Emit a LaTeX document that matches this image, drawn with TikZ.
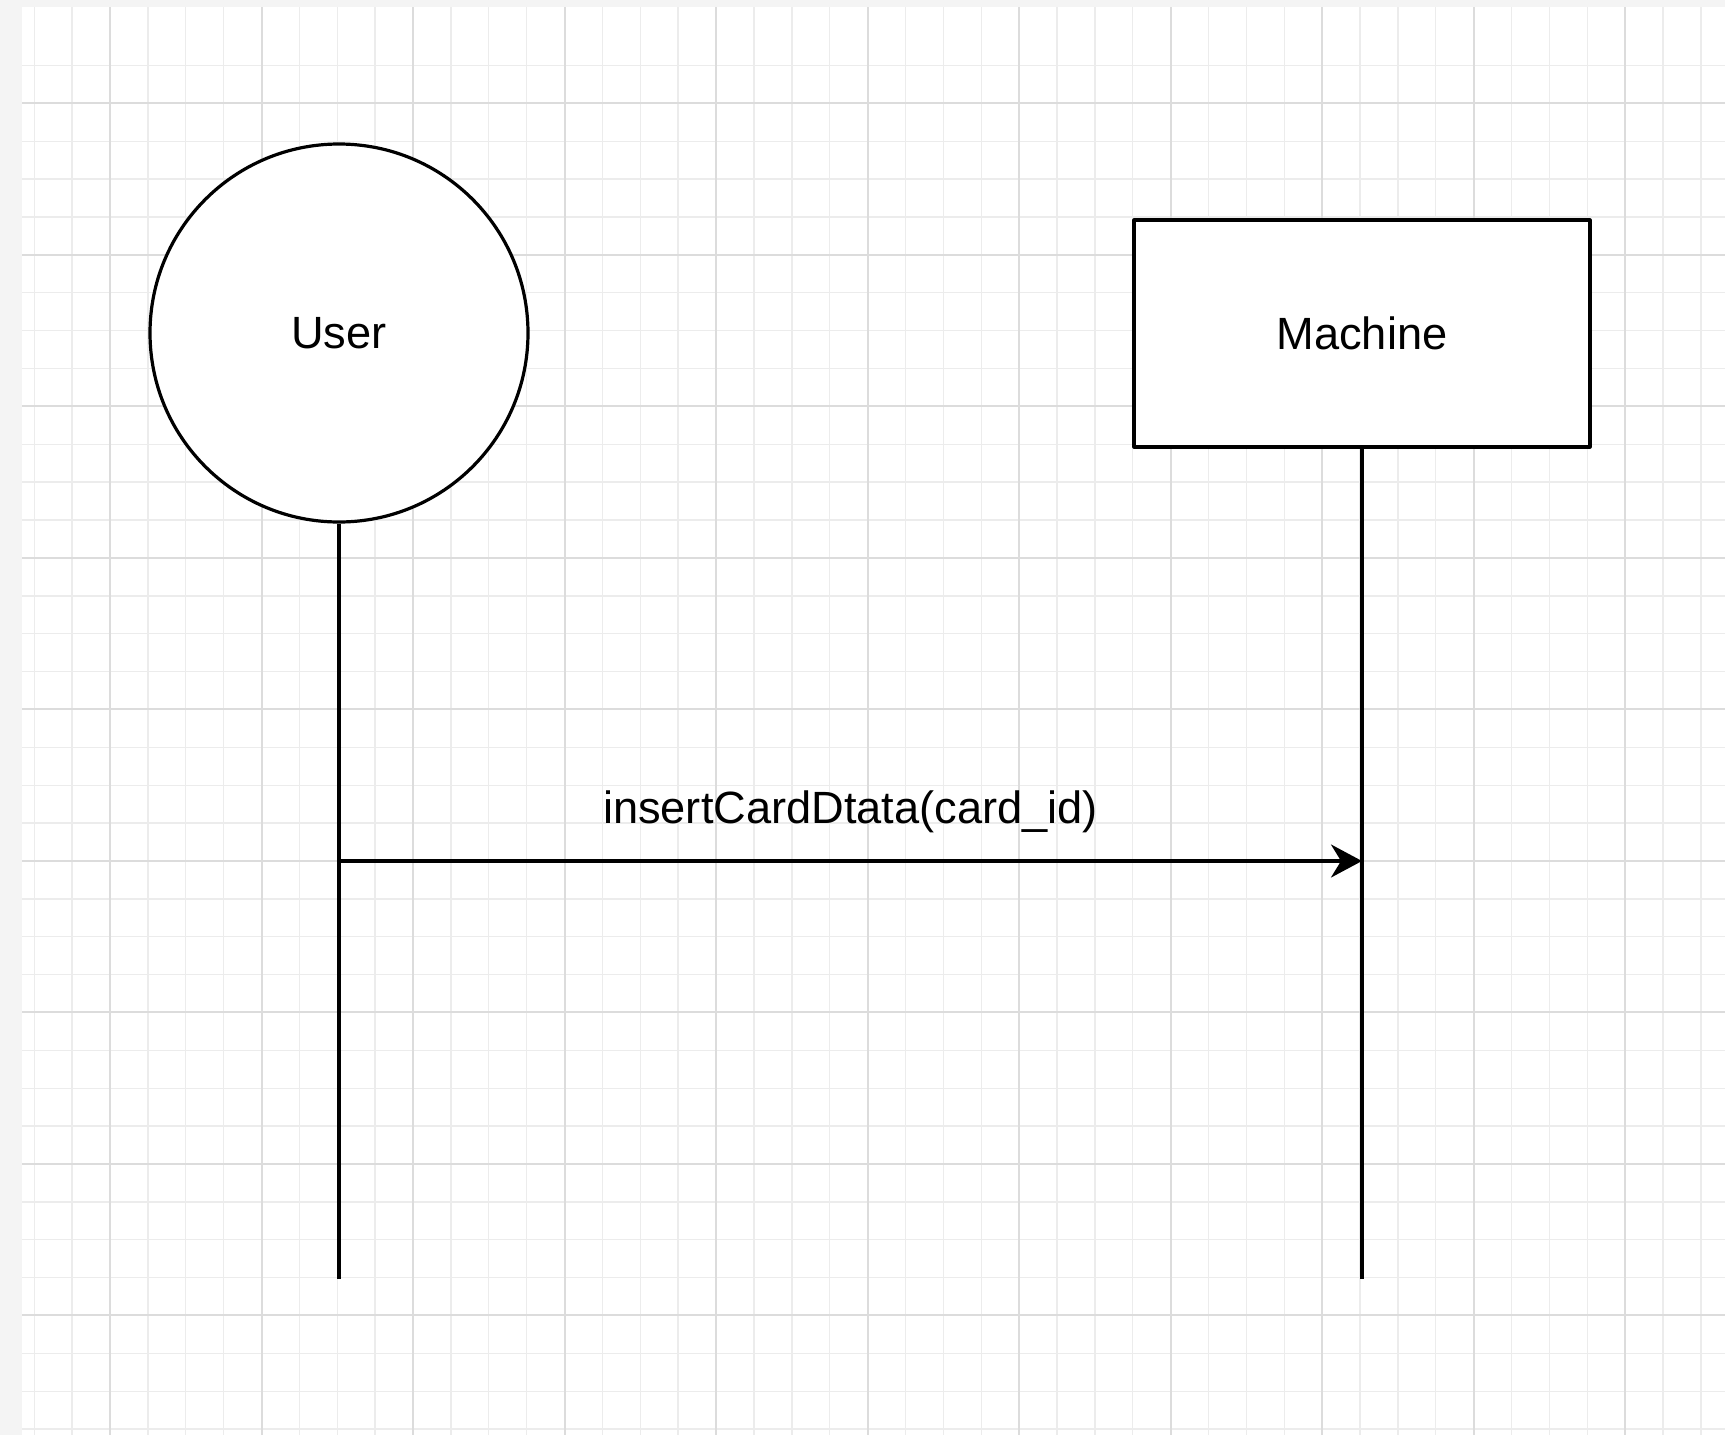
\documentclass[tikz,border=0pt]{standalone}
\usepackage{fontspec}
\setmainfont{Liberation Sans}
\usetikzlibrary{arrows.meta,positioning}
\definecolor{pagegray}{HTML}{F4F4F4}
\definecolor{minorgray}{HTML}{ECECEC}
\definecolor{majorgray}{HTML}{DCDCDC}
\tikzset{
	actor/.style={circle,draw=black,fill=white,line width=1.6pt,minimum size=189pt,inner sep=0pt},
	system/.style={rectangle,draw=black,fill=white,line width=1.6pt,minimum width=228pt,minimum height=113.5pt,inner sep=0pt},
	lifeline/.style={line width=1.6pt},
	msg/.style={line width=1.6pt,-{Stealth[length=15.5pt,width=16.5pt,inset=5pt]}},
	bigfont/.style={font=\fontsize{22.6pt}{27pt}\selectfont}
}
\begin{document}
\begin{tikzpicture}[x=0.5pt,y=-0.5pt,line join=round,bigfont]
	\useasboundingbox (0,0) rectangle (1725,1435);
	\fill[pagegray] (0,0) rectangle (1725,1435);
	\fill[white] (22,7) rectangle (1725,1435);
	\foreach \i in {0,...,44}{\draw[minorgray,line width=0.7pt] ({34.2+37.88*\i},7)--({34.2+37.88*\i},1435);}
	\foreach \i in {0,...,36}{\draw[minorgray,line width=0.7pt] (22,{65.5+37.88*\i})--(1725,{65.5+37.88*\i});}
	\foreach \i in {0,...,10}{\draw[majorgray,line width=1pt] ({110+151.5*\i},7)--({110+151.5*\i},1435);}
	\foreach \i in {0,...,8}{\draw[majorgray,line width=1pt] (22,{103.4+151.5*\i})--(1725,{103.4+151.5*\i});}
	\node[actor] (user) at (339,333) {User};
	\node[system] (machine) at (1362,333.5) {Machine};
	\coordinate (userend) at (339,1279);
	\coordinate (machineend) at (1362,1279);
	\draw[lifeline] (user.south)--(userend);
	\draw[lifeline] (machine.south)--(machineend);
	\coordinate (callfrom) at (339,861);
	\coordinate (callto) at (1362,861);
	\draw[msg] (callfrom)--(callto)node[midway,above=13.3pt,inner sep=0pt]{insertCardDtata(card\_id)};
\end{tikzpicture}
\end{document}
